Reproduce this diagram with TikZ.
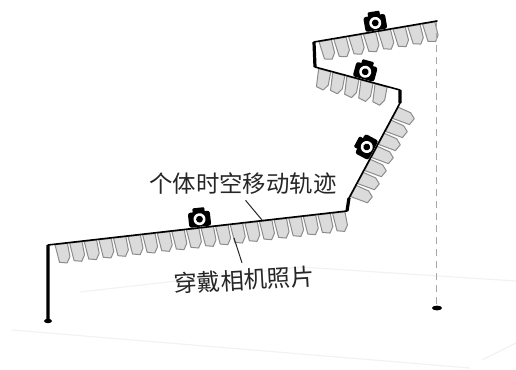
\documentclass[tikz,border=0pt]{standalone}
\usepackage{fontspec}
\newfontfamily\cjk{Noto Sans CJK SC}
\usetikzlibrary{decorations}
\usetikzlibrary{decorations.markings}
\def\drawcard{\draw[card] (0,0.6) -- (12.5,0.6) -- (13.5,14) -- (10,20) -- (2.5,18.5) -- cycle;}
\def\drawcam{\fill[rounded corners=1.2pt] (-11,-1) rectangle (11,-16);\fill[rounded corners=0.5pt] (-6,-14) rectangle (6,-20);\fill[white] (0,-8.5) circle (3pt);\fill (0,-8.5) circle (1.7pt);}
\tikzset{
	track/.style={line width=0.8pt,line join=round,line cap=round},
	post/.style={line width=1.6pt},
	card/.style={fill=black!14,draw=black!45,line width=0.5pt,line join=round},
	cards/.style n args={3}{postaction={decorate,decoration={markings,mark=between positions #1 and #2 step #3 with {\drawcard}}}},
	cam/.style={postaction={decorate,decoration={markings,mark=at position #1 with {\drawcam}}}},
	guide/.style={draw=black!35,line width=0.5pt,dash pattern=on 3.5pt off 2.5pt},
	ground/.style={draw=black!5,line width=0.6pt},
	lbl/.style={inner sep=1pt,text=black!85,font=\cjk\fontsize{11.7}{14}\selectfont},
	leader/.style={draw=black!85,line width=0.5pt},
	}

\begin{document}
\begin{tikzpicture}[x=0.5pt,y=-0.5pt]
\useasboundingbox (0,0) rectangle (516,370);

% faint floor
\draw[ground] (80,292) -- (300,267) -- (516,281);
\draw[ground] (12,330) -- (470,368);
\draw[ground] (482,360) -- (516,343);

% track corners
\coordinate (p0) at (48,321);
\coordinate (p1) at (48,245);
\coordinate (p2) at (347,211);
\coordinate (p3) at (349,198);
\coordinate (p4) at (400,103);
\coordinate (p5) at (400,90);
\coordinate (p6) at (315,67);
\coordinate (p7) at (314,42);
\coordinate (p8) at (437,21);
\coordinate (q0) at (437,308);

% photos hanging under the track
\path[cards={3.5pt}{144pt}{7.35pt}] (p1) -- (p2);
\path[cards={1pt}{46pt}{7.4pt}] (p3) -- (p4);
\path[cards={2pt}{32pt}{7.3pt}] (p6) -- (p5);
\path[cards={2.5pt}{56pt}{7.5pt}] (p7) -- (p8);

\draw[guide] (p8) -- (q0);
\fill (q0) ellipse (2.5pt and 1.2pt);

\draw[track] (p1) -- (p2) -- (p3) -- (p4) -- (p5) -- (p6) -- (p7) -- (p8);
\draw[post] (p0) -- (p1) (p2) -- (p3) (p4) -- (p5) (p6) -- (p7);
\fill (p0) ellipse (2pt and 1.1pt);

% cameras
\path[cam=0.51] (p1) -- (p2);
\path[cam=0.495] (p3) -- (p4);
\path[cam=0.565] (p6) -- (p5);
\path[cam=0.51] (p7) -- (p8);

% labels
\node[lbl] (lbltrack) at (243,184) {个体时空移动轨迹};
\node[lbl,rotate=3.3] (lblphoto) at (244,280) {穿戴相机照片};
\coordinate (trackpt) at (262,220);
\coordinate (cardpt) at (234,238);
\draw[leader,shorten <=2pt] (lbltrack.south) -- (trackpt);
\draw[leader,shorten >=2pt] (cardpt) -- (lblphoto.north);
\end{tikzpicture}
\end{document}
